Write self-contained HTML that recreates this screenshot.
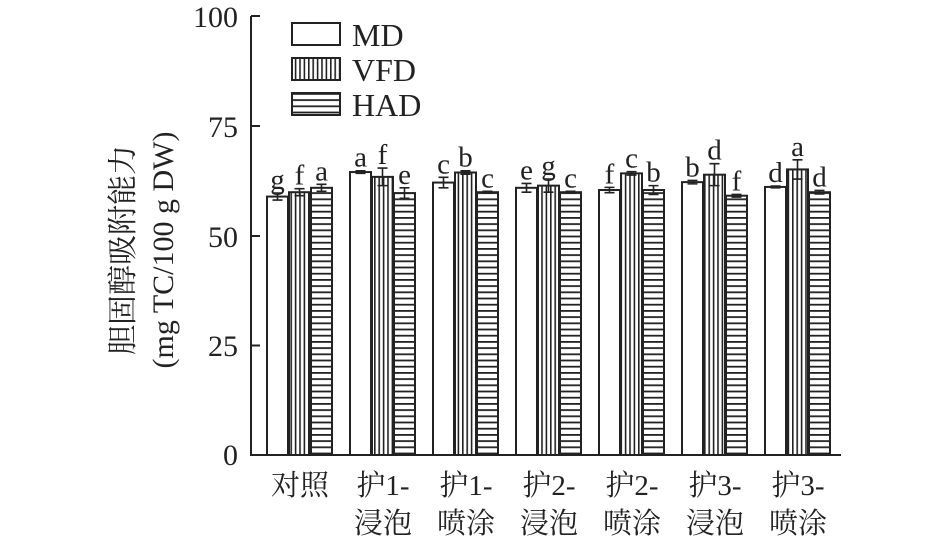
<!DOCTYPE html>
<html><head><meta charset="utf-8"><style>body{margin:0;background:#fff}svg{display:block}</style></head><body>
<svg width="945" height="544" xmlns="http://www.w3.org/2000/svg" font-family="Liberation Serif, Noto Serif CJK SC, serif">
<defs>
<pattern id="v" width="4.4" height="10" patternUnits="userSpaceOnUse"><rect width="4.4" height="10" fill="#fff"/><rect x="0" width="1.6" height="10" fill="#222"/></pattern>
<pattern id="h" width="10" height="6.2" patternUnits="userSpaceOnUse"><rect width="10" height="6.2" fill="#fff"/><rect y="0" width="10" height="1.8" fill="#222"/></pattern>
</defs>
<g id="bars" stroke="#222" stroke-width="2"></g>
<g id="err" stroke="#222" stroke-width="1.6" fill="none"></g>
<g id="lab" font-size="29" text-anchor="middle" fill="#222"></g>
<g stroke="#222" stroke-width="2" fill="none">
<path d="M251,16 V455 H841"/>
<path d="M251,16 h9 M251,126 h9 M251,236 h9 M251,345.5 h9"/>
</g>
<g font-size="30" text-anchor="end" fill="#222">
<text x="238" y="27">100</text><text x="238" y="137">75</text><text x="238" y="247">50</text><text x="238" y="356">25</text><text x="238" y="465">0</text>
</g>
<g font-size="30" text-anchor="middle" fill="#222">
<text transform="translate(133,250) rotate(-90)">胆固醇吸附能力</text>
<text transform="translate(173,250) rotate(-90)">(mg TC/100 g DW)</text>
</g>
<g stroke="#222" stroke-width="2">
<rect x="292" y="23" width="48" height="22" fill="#fff"/>
<rect x="292" y="58" width="48" height="22" fill="url(#v)"/>
<rect x="292" y="93" width="48" height="22" fill="url(#h)"/>
</g>
<g font-size="32" fill="#222">
<text x="352" y="46">MD</text><text x="352" y="81">VFD</text><text x="352" y="116">HAD</text>
</g>
<g font-size="29" text-anchor="middle" fill="#222">
<text x="300" y="495">对照</text>
<text x="383" y="495">护1-</text><text x="383" y="533">浸泡</text>
<text x="466" y="495">护1-</text><text x="466" y="533">喷涂</text>
<text x="549" y="495">护2-</text><text x="549" y="533">浸泡</text>
<text x="632" y="495">护2-</text><text x="632" y="533">喷涂</text>
<text x="715" y="495">护3-</text><text x="715" y="533">浸泡</text>
<text x="798" y="495">护3-</text><text x="798" y="533">喷涂</text>
</g>
<script>
var d=[[[59,0.8,'g'],[60,0.8,'f'],[61,0.8,'a']],
[[64.6,0.3,'a'],[63.5,2,'f'],[59.8,1.2,'e']],
[[62.2,1.2,'c'],[64.5,0.4,'b'],[60,0.2,'c']],
[[61,1,'e'],[61.5,1.5,'g'],[60,0.2,'c']],
[[60.5,0.6,'f'],[64.3,0.4,'c'],[60.5,1,'b']],
[[62.3,0.4,'b'],[64,2.5,'d'],[59.2,0.3,'f']],
[[61.2,0.2,'d'],[65.2,2.2,'a'],[60,0.4,'d']]];
var ns='http://www.w3.org/2000/svg',B=document.getElementById('bars'),E=document.getElementById('err'),L=document.getElementById('lab');
function y(v){return 455-v*4.38}
var fills=['#fff','url(#v)','url(#h)'];
for(var g=0;g<7;g++)for(var s=0;s<3;s++){
 var x=267+g*83+s*22,v=d[g][s][0],e=d[g][s][1];
 var r=document.createElementNS(ns,'rect');
 r.setAttribute('x',x);r.setAttribute('y',y(v));r.setAttribute('width',21);r.setAttribute('height',455-y(v));r.setAttribute('fill',fills[s]);B.appendChild(r);
 var cx=x+10.5,p=document.createElementNS(ns,'path');
 p.setAttribute('d','M'+cx+','+y(v+e)+'V'+y(v-e)+'M'+(cx-5)+','+y(v+e)+'h10M'+(cx-5)+','+y(v-e)+'h10');E.appendChild(p);
 var t=document.createElementNS(ns,'text');t.setAttribute('x',cx);t.setAttribute('y',y(v+e)-4);t.textContent=d[g][s][2];L.appendChild(t);
}
</script>
</svg>
</body></html>
